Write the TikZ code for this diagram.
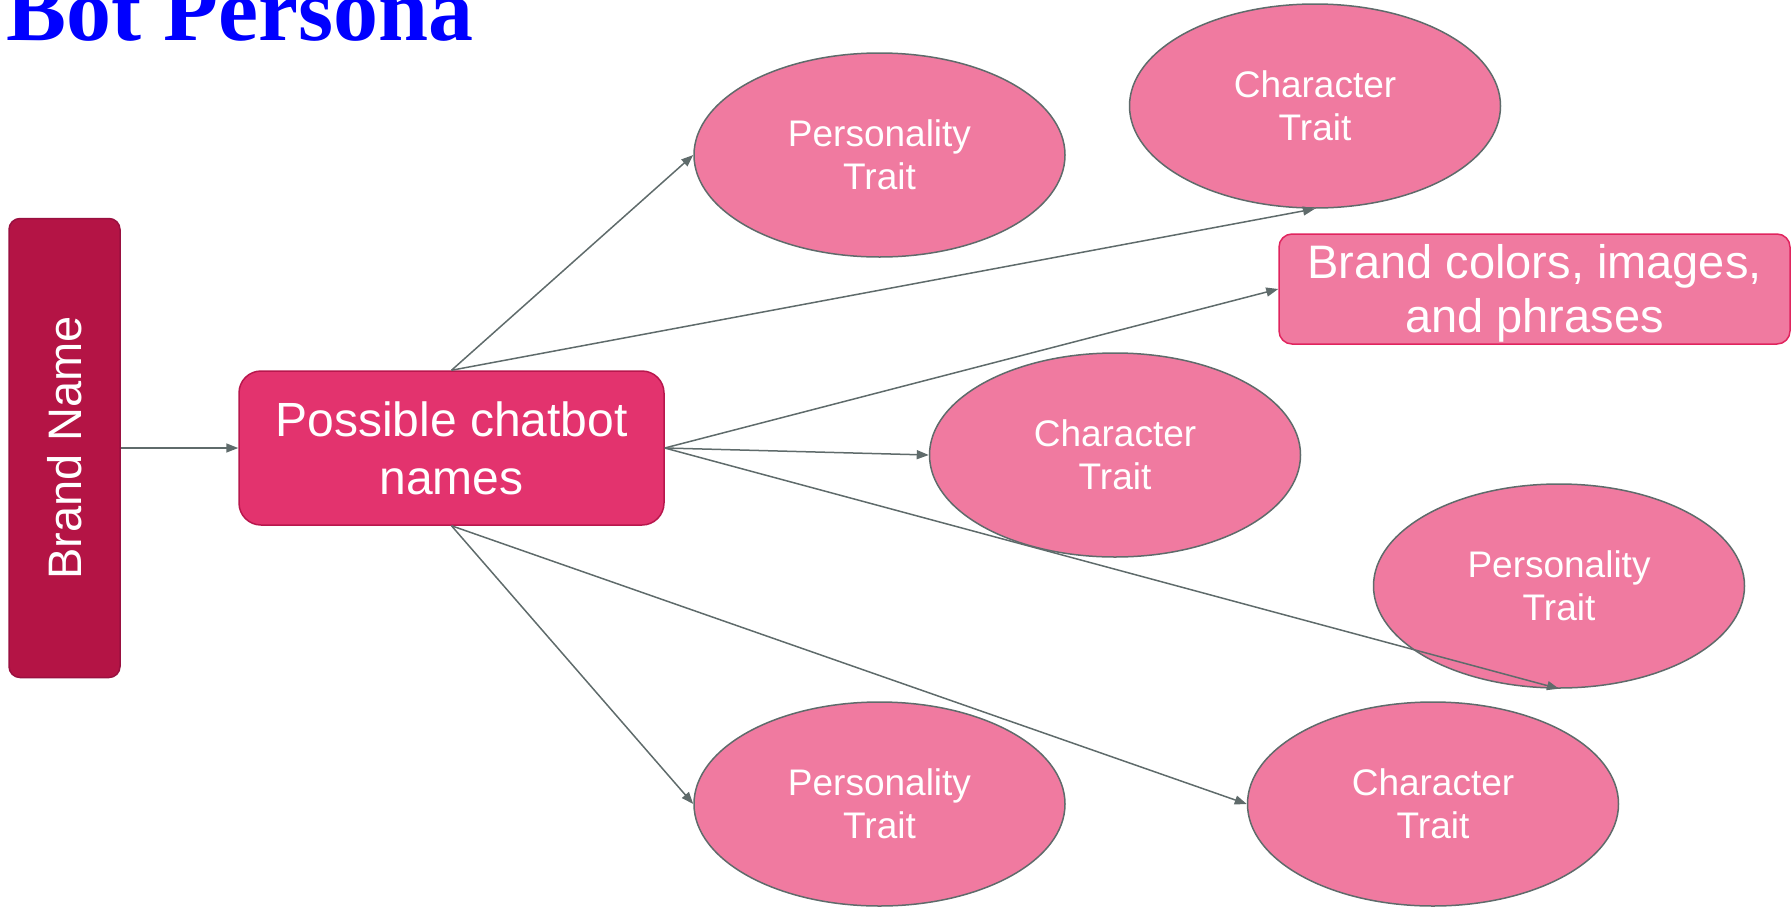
\documentclass[tikz,border=0pt]{standalone}
\usepackage{fontspec}
\setmainfont{Liberation Sans}
\newfontfamily\titlefont{Liberation Serif}
\usetikzlibrary{shapes.geometric,arrows.meta}

\definecolor{brandfill}{HTML}{B41445}
\definecolor{brandline}{HTML}{9A1040}
\definecolor{namefill}{HTML}{E3336E}
\definecolor{nameline}{HTML}{B8174D}
\definecolor{traitfill}{HTML}{F07AA0}
\definecolor{traitline}{HTML}{5F6B6B}
\definecolor{assetline}{HTML}{E0245E}
\definecolor{linkgray}{HTML}{5F6B6B}
\definecolor{titleblue}{HTML}{0000FF}

\tikzset{
  trait/.style={ellipse, draw=traitline, fill=traitfill, line width=1.5pt,
    minimum width=371pt, minimum height=204pt, inner sep=0pt,
    text=white, align=center, font=\fontsize{37}{43}\selectfont},
  link/.style={draw=linkgray, line width=1.5pt,
    -{Triangle[length=12pt,width=9pt]}},
}

\begin{document}
\begin{tikzpicture}[x=1pt, y=-1pt]
\useasboundingbox (0,0) rectangle (1791,908);

% title
\node[anchor=base west, inner sep=0pt, text=titleblue,
      font=\titlefont\bfseries\fontsize{90}{100}\selectfont] (title) at (6,40) {Bot Persona};

% brand name column
\node[draw=brandline, fill=brandfill, line width=1.5pt, rounded corners=11pt,
      minimum width=111pt, minimum height=459pt, inner sep=0pt] (brand) at (64.5,448) {};
\node[rotate=90, text=white, font=\fontsize{47}{54}\selectfont, inner sep=0pt]
      (brandlabel) at (brand.center) {Brand Name};

% chatbot names
\node[draw=nameline, fill=namefill, line width=1.5pt, rounded corners=22pt,
      minimum width=425pt, minimum height=154pt, inner sep=0pt,
      text=white, align=center, font=\fontsize{48}{58}\selectfont]
      (names) at (451.5,448) {Possible chatbot\\names};

% brand assets
\node[draw=assetline, fill=traitfill, line width=1.5pt, rounded corners=13pt,
      minimum width=511pt, minimum height=110pt, inner sep=0pt]
      (assets) at (1534.5,289) {};
\node[text=white, align=center, inner sep=0pt, font=\fontsize{47}{54}\selectfont]
      (assetstext) at ([yshift=-4pt]assets.center) {Brand colors, images,\\and phrases};

% traits
\node[trait] (p1) at (879.5,155) {Personality\\Trait};
\node[trait] (c1) at (1315,106) {Character\\Trait};
\node[trait] (c2) at (1115,455) {Character\\Trait};
\node[trait] (p2) at (1559,586) {Personality\\Trait};
\node[trait] (p3) at (879.5,804) {Personality\\Trait};
\node[trait] (c3) at (1433,804) {Character\\Trait};

% connectors
\draw[link] (brand.east |- names.west) -- (names.west);
\draw[link] (names.north) -- (p1.west);
\draw[link] (names.north) -- (c1.south);
\draw[link] (names.east) -- (assets.west);
\draw[link] (names.east) -- (c2.west);
\draw[link] (names.east) -- (p2.south);
\draw[link] (names.south) -- (p3.west);
\draw[link] (names.south) -- (c3.west);
\end{tikzpicture}
\end{document}
